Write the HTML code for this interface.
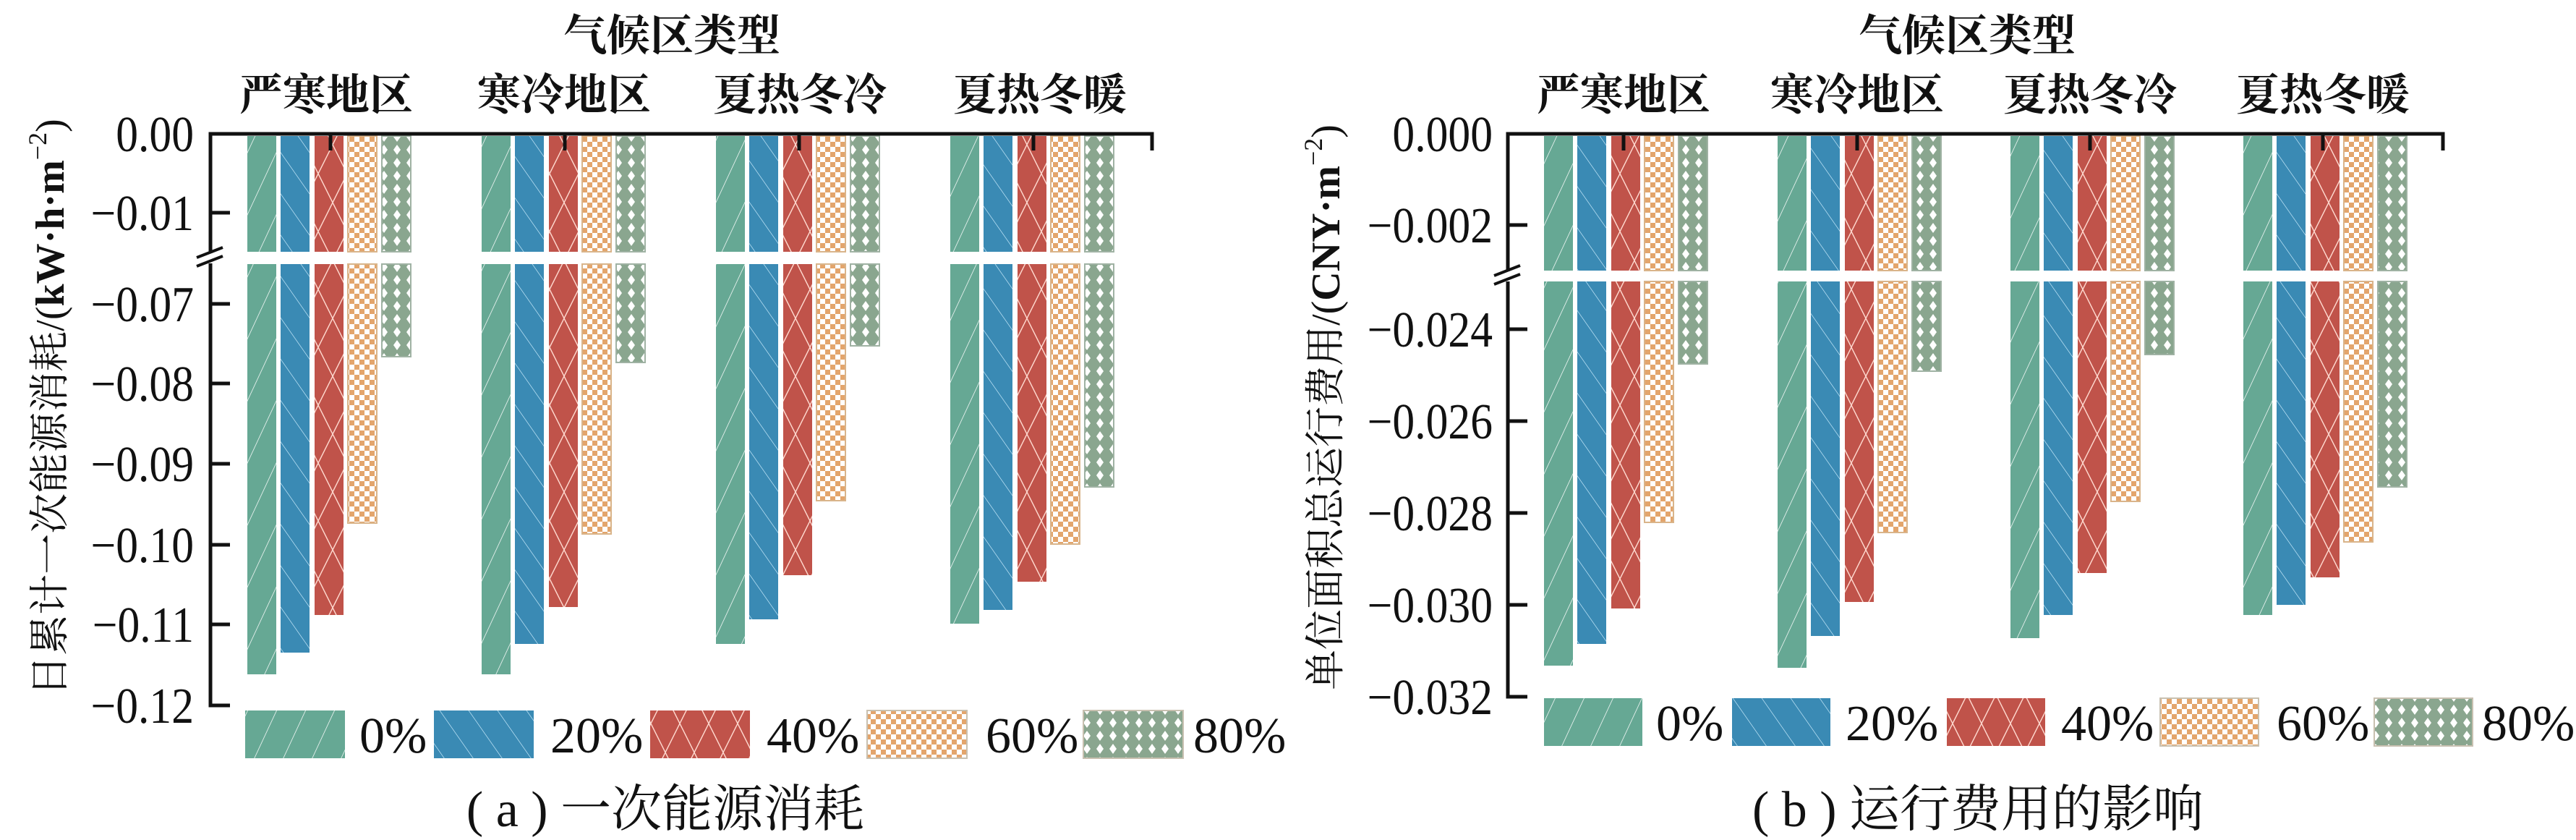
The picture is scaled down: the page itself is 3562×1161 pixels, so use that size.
<!DOCTYPE html>
<html><head><meta charset="utf-8">
<style>
html,body{margin:0;padding:0;background:#fff;}
svg{display:block;}
text{font-family:"Liberation Serif","Noto Serif CJK SC",serif;fill:#111;}
.b{font-weight:bold;}
</style></head>
<body>
<svg id="s" xmlns="http://www.w3.org/2000/svg" width="3562" height="1161" viewBox="0 0 3562 1161">
<defs>
<pattern id="p0" patternUnits="userSpaceOnUse" width="40" height="80" patternTransform="skewX(-25)">
<rect width="40" height="80" fill="#66a894"/><line x1="0" y1="0" x2="0" y2="80" stroke="#fff" stroke-width="1.6"/></pattern>
<pattern id="p1" patternUnits="userSpaceOnUse" width="40" height="80" patternTransform="skewX(35)">
<rect width="40" height="80" fill="#3a8ab4"/><line x1="0" y1="0" x2="0" y2="80" stroke="#cfefff" stroke-width="1.6"/></pattern>
<pattern id="p2" patternUnits="userSpaceOnUse" width="40" height="80">
<rect width="40" height="80" fill="#c0534a"/><path d="M0 0L40 80M40 0L0 80" stroke="#ffd9cf" stroke-width="1.4"/></pattern>
<pattern id="p3" patternUnits="userSpaceOnUse" width="14" height="14">
<rect width="14" height="14" fill="#fff"/><rect width="7" height="7" fill="#e3a56c"/><rect x="7" y="7" width="7" height="7" fill="#e3a56c"/></pattern>
<pattern id="p4" patternUnits="userSpaceOnUse" width="18" height="18">
<rect width="18" height="18" fill="#8aa68f"/><path d="M9 2L14 9L9 16L4 9Z" fill="#fff"/></pattern>
</defs>

<!-- LEFT CHART -->
<text x="929" y="70" font-size="60" text-anchor="middle" class="b">气候区类型</text>
<g font-size="60" text-anchor="middle" class="b">
<text x="451" y="152">严寒地区</text><text x="780" y="152">寒冷地区</text>
<text x="1106" y="152">夏热冬冷</text><text x="1438" y="152">夏热冬暖</text>
</g>
<g id="barsL"></g>
<g stroke="#111" stroke-width="5" fill="none">
<path d="M1593 208V185H291V975H318"/>
<path d="M291 294H318M291 420H318M291 530H318M291 641H318M291 753H318M291 863H318"/>
<path d="M457 185V208M781 185V208M1105 185V208M1429 185V208"/>
</g>
<rect x="280" y="350" width="24" height="14" fill="#fff"/>
<path d="M272 356L308 342M272 368L308 354" stroke="#111" stroke-width="4"/>
<g font-size="70" text-anchor="end" transform="translate(268 0) scale(0.88 1)">
<text x="0" y="209">0.00</text>
<text x="0" y="318">−0.01</text>
<text x="0" y="444">−0.07</text>
<text x="0" y="554">−0.08</text>
<text x="0" y="665">−0.09</text>
<text x="0" y="777">−0.10</text>
<text x="0" y="887">−0.11</text>
<text x="0" y="999">−0.12</text>
</g>
<text transform="translate(88 563) rotate(-90)" font-size="56" text-anchor="middle">日累计一次能源消耗/(<tspan font-weight="bold">kW·h·m</tspan><tspan font-size="36" dy="-24">−2</tspan><tspan dy="24">)</tspan></text>
<g id="legL"></g>
<g font-size="70">
<text x="497" y="1040">0%</text><text x="761" y="1040">20%</text><text x="1060" y="1040">40%</text><text x="1363" y="1040">60%</text><text x="1650" y="1040">80%</text>
</g>
<text x="920" y="1142" font-size="70" text-anchor="middle">( a ) 一次能源消耗</text>

<!-- RIGHT CHART -->
<text x="2720" y="70" font-size="60" text-anchor="middle" class="b">气候区类型</text>
<g font-size="60" text-anchor="middle" class="b">
<text x="2245" y="152">严寒地区</text><text x="2568" y="152">寒冷地区</text>
<text x="2890" y="152">夏热冬冷</text><text x="3212" y="152">夏热冬暖</text>
</g>
<g id="barsR"></g>
<g stroke="#111" stroke-width="5" fill="none">
<path d="M3378 208V185H2085V963H2112"/>
<path d="M2085 311H2112M2085 455H2112M2085 582H2112M2085 709H2112M2085 836H2112"/>
<path d="M2245 185V208M2568 185V208M2890 185V208M3212 185V208"/>
</g>
<rect x="2074" y="375" width="24" height="14" fill="#fff"/>
<path d="M2066 381L2102 367M2066 393L2102 379" stroke="#111" stroke-width="4"/>
<g font-size="70" text-anchor="end" transform="translate(2064 0) scale(0.88 1)">
<text x="0" y="209">0.000</text>
<text x="0" y="335">−0.002</text>
<text x="0" y="479">−0.024</text>
<text x="0" y="606">−0.026</text>
<text x="0" y="733">−0.028</text>
<text x="0" y="860">−0.030</text>
<text x="0" y="987">−0.032</text>
</g>
<text transform="translate(1852 563) rotate(-90)" font-size="56" text-anchor="middle">单位面积总运行费用/(<tspan font-weight="bold">CNY·m</tspan><tspan font-size="36" dy="-24">−2</tspan><tspan dy="24">)</tspan></text>
<g id="legR"></g>
<g font-size="70">
<text x="2290" y="1023">0%</text><text x="2552" y="1023">20%</text><text x="2850" y="1023">40%</text><text x="3148" y="1023">60%</text><text x="3432" y="1023">80%</text>
</g>
<text x="2735" y="1142" font-size="70" text-anchor="middle">( b ) 运行费用的影响</text>
</svg>
<script>
(function(){
var NS="http://www.w3.org/2000/svg";
function R(g,x,y,w,h,f,st){var r=document.createElementNS(NS,"rect");r.setAttribute("x",x);r.setAttribute("y",y);r.setAttribute("width",w);r.setAttribute("height",h);r.setAttribute("fill",f);if(st){r.setAttribute("stroke",st);r.setAttribute("stroke-width","2");}g.appendChild(r);}
var off=[0,46,93,139,186];
var gL=document.getElementById("barsL");
var endsL=[[932,902,850,723,493],[932,890,839,738,501],[890,856,795,692,478],[862,843,804,752,673]];
var gxL=[342,666,990,1314];
for(var g=0;g<4;g++)for(var k=0;k<5;k++){var x=gxL[g]+off[k];var st=k>=3?(k==3?"#d9b48a":"#9fb2a3"):null;
R(gL,x,188,40,160,"url(#p"+k+")",st);R(gL,x,365,40,endsL[g][k]-365,"url(#p"+k+")",st);}
var gR=document.getElementById("barsR");
var endsR=[[920,890,841,722,503],[923,879,832,736,513],[882,850,792,693,490],[850,836,798,749,673]];
var gxR=[2135,2458,2780,3102];
for(var g=0;g<4;g++)for(var k=0;k<5;k++){var x=gxR[g]+off[k];var st=k>=3?(k==3?"#d9b48a":"#9fb2a3"):null;
R(gR,x,188,40,186,"url(#p"+k+")",st);R(gR,x,389,40,endsR[g][k]-389,"url(#p"+k+")",st);}
var lL=document.getElementById("legL");var bxL=[339,600,899,1199,1498];
for(var k=0;k<5;k++)R(lL,bxL[k],982,138,66,"url(#p"+k+")",k>=3?"#c8c0b0":null);
var lR=document.getElementById("legR");var bxR=[2135,2395,2692,2987,3283];
for(var k=0;k<5;k++)R(lR,bxR[k],965,136,66,"url(#p"+k+")",k>=3?"#c8c0b0":null);
})();
</script>
</body></html>
